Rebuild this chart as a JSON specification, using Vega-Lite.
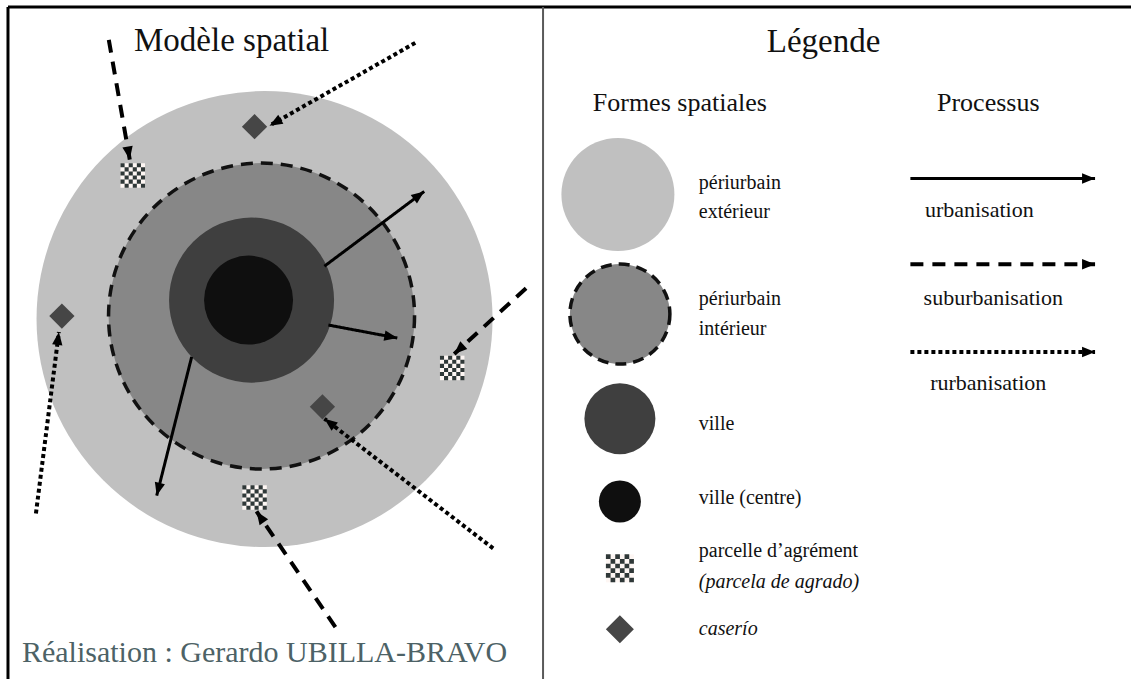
{
  "$schema": "https://vega.github.io/schema/vega-lite/v6.json",
  "width": 1133,
  "height": 681,
  "padding": 0,
  "autosize": {"type": "fit", "contains": "padding"},
  "background": "white",
  "config": {"view": {"stroke": null}},
  "datasets": {
    "formes": [
      {"x": 265, "y": 320, "forme": "périurbain extérieur", "vue": "modèle"},
      {"x": 262, "y": 317, "forme": "périurbain intérieur", "vue": "modèle"},
      {"x": 252, "y": 301, "forme": "ville", "vue": "modèle"},
      {"x": 249, "y": 301, "forme": "ville (centre)", "vue": "modèle"},
      {"x": 619, "y": 195, "forme": "périurbain extérieur", "vue": "légende"},
      {"x": 621, "y": 315, "forme": "périurbain intérieur", "vue": "légende"},
      {"x": 621, "y": 420, "forme": "ville", "vue": "légende"},
      {"x": 621, "y": 503, "forme": "ville (centre)", "vue": "légende"}
    ],
    "lieux": [
      {"x": 133, "y": 176, "forme": "parcelle d'agrément", "vue": "modèle"},
      {"x": 453, "y": 369, "forme": "parcelle d'agrément", "vue": "modèle"},
      {"x": 255, "y": 499, "forme": "parcelle d'agrément", "vue": "modèle"},
      {"x": 621, "y": 570, "forme": "parcelle d'agrément", "vue": "légende"},
      {"x": 255, "y": 127, "forme": "caserío", "vue": "modèle"},
      {"x": 62, "y": 317, "forme": "caserío", "vue": "modèle"},
      {"x": 323, "y": 408, "forme": "caserío", "vue": "modèle"},
      {"x": 621, "y": 631, "forme": "caserío", "vue": "légende"}
    ],
    "flux": [
      {"x": 325, "y": 267, "x2": 425, "y2": 192, "processus": "urbanisation"},
      {"x": 329, "y": 326, "x2": 398, "y2": 339, "processus": "urbanisation"},
      {"x": 192, "y": 358, "x2": 157, "y2": 497, "processus": "urbanisation"},
      {"x": 109, "y": 40, "x2": 130, "y2": 160, "processus": "suburbanisation"},
      {"x": 527, "y": 289, "x2": 455, "y2": 355, "processus": "suburbanisation"},
      {"x": 336, "y": 629, "x2": 257, "y2": 513, "processus": "suburbanisation"},
      {"x": 416, "y": 43, "x2": 270, "y2": 126, "processus": "rurbanisation"},
      {"x": 36, "y": 515, "x2": 59, "y2": 333, "processus": "rurbanisation"},
      {"x": 494, "y": 550, "x2": 325, "y2": 420, "processus": "rurbanisation"},
      {"x": 912, "y": 179, "x2": 1097, "y2": 179, "processus": "urbanisation"},
      {"x": 912, "y": 265, "x2": 1097, "y2": 265, "processus": "suburbanisation"},
      {"x": 912, "y": 353, "x2": 1097, "y2": 353, "processus": "rurbanisation"}
    ],
    "cadre": [
      {"x": 8, "y": 7, "x2": 1133, "y2": 7, "trait": "bord"},
      {"x": 8, "y": 7, "x2": 8, "y2": 681, "trait": "bord"},
      {"x": 544, "y": 7, "x2": 544, "y2": 681, "trait": "séparation"}
    ],
    "textes": [
      {"x": 232, "y": 41, "texte": "Modèle spatial", "groupe": "titre"},
      {"x": 825, "y": 42, "texte": "Légende", "groupe": "titre"},
      {"x": 681, "y": 103, "texte": "Formes spatiales", "groupe": "sous-titre"},
      {"x": 990, "y": 103, "texte": "Processus", "groupe": "sous-titre"},
      {"x": 700, "y": 184, "texte": "périurbain", "groupe": "étiquette"},
      {"x": 700, "y": 213, "texte": "extérieur", "groupe": "étiquette"},
      {"x": 700, "y": 300, "texte": "périurbain", "groupe": "étiquette"},
      {"x": 700, "y": 330, "texte": "intérieur", "groupe": "étiquette"},
      {"x": 700, "y": 425, "texte": "ville", "groupe": "étiquette"},
      {"x": 700, "y": 499, "texte": "ville (centre)", "groupe": "étiquette"},
      {"x": 700, "y": 553, "texte": "parcelle d’agrément", "groupe": "étiquette"},
      {"x": 700, "y": 584, "texte": "(parcela de agrado)", "groupe": "italique"},
      {"x": 700, "y": 631, "texte": "caserío", "groupe": "italique"},
      {"x": 981, "y": 211, "texte": "urbanisation", "groupe": "processus"},
      {"x": 995, "y": 299, "texte": "suburbanisation", "groupe": "processus"},
      {"x": 990, "y": 384, "texte": "rurbanisation", "groupe": "processus"}, 
      {"x": 22, "y": 655, "texte": "Réalisation : Gerardo UBILLA-BRAVO", "groupe": "crédit"}
    ]
  },
  "encoding": {
    "x": {"field": "x", "type": "quantitative", "scale": {"domain": [0, 1133], "nice": false, "zero": false}, "axis": null},
    "y": {"field": "y", "type": "quantitative", "scale": {"domain": [0, 681], "nice": false, "zero": false, "reverse": true}, "axis": null}
  },
  "layer": [
    {
      "data": {"name": "formes"},
      "transform": [{"filter": "datum.vue === 'modèle'"}],
      "mark": {"type": "point", "shape": "circle", "filled": true, "opacity": 1, "strokeWidth": 3.5, "strokeDash": [12, 8]},
      "encoding": {
        "fill": {"field": "forme", "type": "nominal", "legend": null,
          "scale": {"type": "ordinal", "domain": ["périurbain extérieur", "périurbain intérieur", "ville", "ville (centre)"], "range": ["#c0c0c0", "#878787", "#3f3f3f", "#0f0f0f"]}},
        "size": {"field": "forme", "type": "nominal", "legend": null,
          "scale": {"type": "ordinal", "domain": ["périurbain extérieur", "périurbain intérieur", "ville", "ville (centre)"], "range": [207936, 93636, 27225, 7921]}},
        "stroke": {"condition": {"test": "datum.forme === 'périurbain intérieur'", "value": "#111111"}, "value": null}
      }
    },
    {
      "data": {"name": "formes"},
      "transform": [{"filter": "datum.vue === 'légende'"}],
      "mark": {"type": "point", "shape": "circle", "filled": true, "opacity": 1, "strokeWidth": 3.5, "strokeDash": [11, 7]},
      "encoding": {
        "fill": {"field": "forme", "type": "nominal", "legend": null,
          "scale": {"type": "ordinal", "domain": ["périurbain extérieur", "périurbain intérieur", "ville", "ville (centre)"], "range": ["#c0c0c0", "#878787", "#3f3f3f", "#0f0f0f"]}},
        "size": {"field": "forme", "type": "nominal", "legend": null,
          "scale": {"type": "ordinal", "domain": ["périurbain extérieur", "périurbain intérieur", "ville", "ville (centre)"], "range": [12769, 10000, 5041, 1764]}},
        "stroke": {"condition": {"test": "datum.forme === 'périurbain intérieur'", "value": "#111111"}, "value": null}
      }
    },
    {
      "data": {"name": "lieux"},
      "transform": [{"filter": "datum.forme === 'parcelle d\\'agrément'"}],
      "mark": {"type": "point", "shape": "square", "filled": true, "opacity": 1, "fill": "#fdf6f3"},
      "encoding": {
        "size": {"field": "vue", "type": "nominal", "legend": null, "scale": {"type": "ordinal", "domain": ["modèle", "légende"], "range": [600, 784]}}
      }
    },
    {
      "data": {"name": "lieux"},
      "transform": [{"filter": "datum.forme === 'parcelle d\\'agrément'"}],
      "mark": {"type": "point", "filled": true, "opacity": 1, "fill": "#2f3838",
        "shape": "M-1,-1h0.334v0.334h-0.334zM-0.333,-1h0.334v0.334h-0.334zM0.333,-1h0.334v0.334h-0.334zM-0.667,-0.667h0.334v0.334h-0.334zM0,-0.667h0.334v0.334h-0.334zM0.667,-0.667h0.334v0.334h-0.334zM-1,-0.333h0.334v0.334h-0.334zM-0.333,-0.333h0.334v0.334h-0.334zM0.333,-0.333h0.334v0.334h-0.334zM-0.667,0h0.334v0.334h-0.334zM0,0h0.334v0.334h-0.334zM0.667,0h0.334v0.334h-0.334zM-1,0.333h0.334v0.334h-0.334zM-0.333,0.333h0.334v0.334h-0.334zM0.333,0.333h0.334v0.334h-0.334zM-0.667,0.667h0.334v0.334h-0.334zM0,0.667h0.334v0.334h-0.334zM0.667,0.667h0.334v0.334h-0.334z"},
      "encoding": {
        "size": {"field": "vue", "type": "nominal", "legend": null, "scale": {"type": "ordinal", "domain": ["modèle", "légende"], "range": [600, 784]}}
      }
    },
    {
      "data": {"name": "lieux"},
      "transform": [{"filter": "datum.forme === 'caserío'"}],
      "mark": {"type": "point", "shape": "diamond", "filled": true, "opacity": 1, "fill": "#464646"},
      "encoding": {
        "size": {"field": "vue", "type": "nominal", "legend": null, "scale": {"type": "ordinal", "domain": ["modèle", "légende"], "range": [640, 784]}}
      }
    },
    {
      "data": {"name": "flux"},
      "mark": {"type": "rule", "color": "#000000", "strokeCap": "butt"},
      "encoding": {
        "x2": {"field": "x2"},
        "y2": {"field": "y2"},
        "strokeDash": {"field": "processus", "type": "nominal", "legend": null,
          "scale": {"type": "ordinal", "domain": ["urbanisation", "suburbanisation", "rurbanisation"], "range": [[1, 0], [13, 9], [4, 3]]}},
        "strokeWidth": {"field": "processus", "type": "nominal", "legend": null,
          "scale": {"type": "ordinal", "domain": ["urbanisation", "suburbanisation", "rurbanisation"], "range": [3, 4, 4]}}
      }
    },
    {
      "data": {"name": "flux"},
      "transform": [{"calculate": "atan2(datum.x2 - datum.x, datum.y - datum.y2) * 180 / PI", "as": "angle"}],
      "mark": {"type": "point", "filled": true, "opacity": 1, "fill": "#000000", "size": 169, "shape": "M0,0L0.8,2L-0.8,2Z"},
      "encoding": {
        "x": {"field": "x2", "type": "quantitative", "scale": {"domain": [0, 1133], "nice": false, "zero": false}, "axis": null},
        "y": {"field": "y2", "type": "quantitative", "scale": {"domain": [0, 681], "nice": false, "zero": false, "reverse": true}, "axis": null},
        "angle": {"field": "angle", "type": "quantitative", "scale": null}
      }
    },
    {
      "data": {"name": "cadre"},
      "mark": {"type": "rule"},
      "encoding": {
        "x2": {"field": "x2"},
        "y2": {"field": "y2"},
        "color": {"field": "trait", "type": "nominal", "legend": null, "scale": {"type": "ordinal", "domain": ["bord", "séparation"], "range": ["#000000", "#5a5a5a"]}},
        "strokeWidth": {"field": "trait", "type": "nominal", "legend": null, "scale": {"type": "ordinal", "domain": ["bord", "séparation"], "range": [3, 2]}}
      }
    },
    {
      "data": {"name": "textes"},
      "transform": [{"filter": "datum.groupe === 'titre'"}],
      "mark": {"type": "text", "font": "Liberation Serif", "fontSize": 33, "align": "center", "baseline": "middle", "color": "#111111"},
      "encoding": {"text": {"field": "texte"}}
    },
    {
      "data": {"name": "textes"},
      "transform": [{"filter": "datum.groupe === 'sous-titre'"}],
      "mark": {"type": "text", "font": "Liberation Serif", "fontSize": 26, "align": "center", "baseline": "middle", "color": "#111111"},
      "encoding": {"text": {"field": "texte"}}
    },
    {
      "data": {"name": "textes"},
      "transform": [{"filter": "datum.groupe === 'étiquette'"}],
      "mark": {"type": "text", "font": "Liberation Serif", "fontSize": 20, "align": "left", "baseline": "middle", "color": "#111111"},
      "encoding": {"text": {"field": "texte"}}
    },
    {
      "data": {"name": "textes"},
      "transform": [{"filter": "datum.groupe === 'italique'"}],
      "mark": {"type": "text", "font": "Liberation Serif", "fontSize": 20, "fontStyle": "italic", "align": "left", "baseline": "middle", "color": "#111111"},
      "encoding": {"text": {"field": "texte"}}
    },
    {
      "data": {"name": "textes"},
      "transform": [{"filter": "datum.groupe === 'processus'"}],
      "mark": {"type": "text", "font": "Liberation Serif", "fontSize": 22, "align": "center", "baseline": "middle", "color": "#111111"},
      "encoding": {"text": {"field": "texte"}}
    },
    {
      "data": {"name": "textes"},
      "transform": [{"filter": "datum.groupe === 'crédit'"}],
      "mark": {"type": "text", "font": "Liberation Serif", "fontSize": 30, "align": "left", "baseline": "middle", "color": "#4d6266"},
      "encoding": {"text": {"field": "texte"}}
    }
  ],
  "resolve": {"scale": {"size": "independent", "fill": "independent", "color": "independent", "strokeWidth": "independent"}}
}
